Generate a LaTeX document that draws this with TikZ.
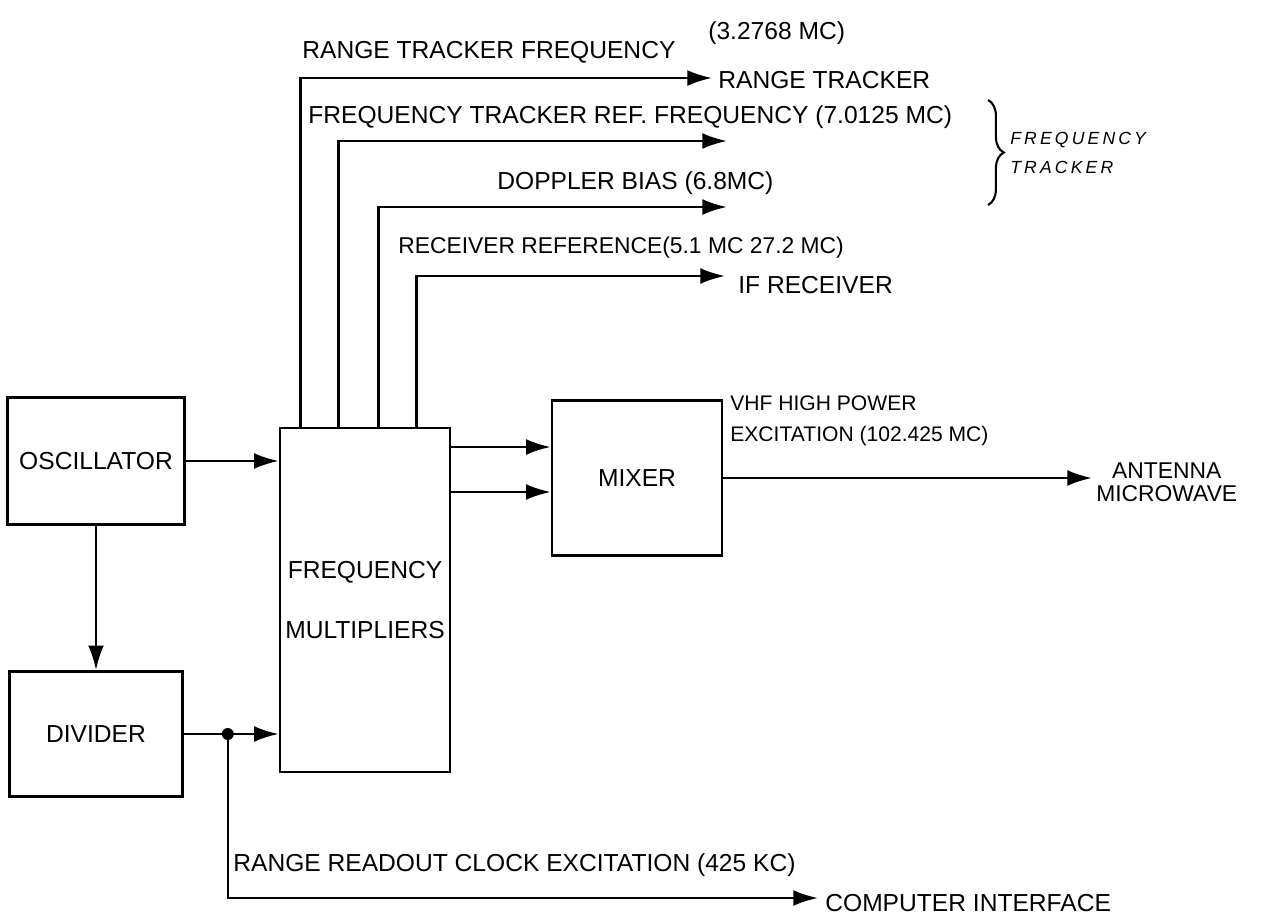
\documentclass[tikz,border=0pt]{standalone}
\usepackage{fontspec}
\setmainfont{Liberation Sans}
\usetikzlibrary{arrows.meta,positioning,calc,decorations.pathreplacing}

\begin{document}
\begin{tikzpicture}[
    x=0.02cm, y=-0.02cm,
    every node/.style={align=center, font=\fontsize{14}{16}\selectfont},
    block/.style={draw, line width=1.5pt, inner sep=0pt},
    sig/.style={-{Latex[length=14pt, width=9pt]}, line width=1.4pt},
    lbl/.style={anchor=west, inner sep=0pt},
    note/.style={anchor=west, inner sep=0pt, align=left, font=\fontsize{10}{17}\selectfont\itshape\addfontfeature{LetterSpace=18}}
]
    \useasboundingbox (0,0) rectangle (1261,919);

    % blocks
    \node[block, minimum width=3.54cm, minimum height=2.54cm] (osc) at (96,461) {OSCILLATOR};
    \node[block, minimum width=3.46cm, minimum height=2.5cm] (div) at (96,734) {DIVIDER};
    \node[block, minimum width=3.4cm, minimum height=6.88cm] (fm) at (365,600) {FREQUENCY\\[18pt]MULTIPLIERS};
    \node[block, minimum width=3.4cm, minimum height=3.1cm] (mixer) at (637,478) {MIXER};

    % free ends
    \coordinate (rt) at (712,78);
    \coordinate (ft) at (727,141);
    \coordinate (db) at (727,207);
    \coordinate (ifr) at (725,276);
    \coordinate (ant) at (1092,478);
    \coordinate (ci) at (818,898);
    \coordinate (tap) at ($(div.east)+(44,0)$);
    \coordinate (in1) at ([yshift=0.62cm]mixer.west);
    \coordinate (in2) at ([yshift=-0.28cm]mixer.west);

    \draw[sig] (osc.east) -- (fm.west |- osc.east);
    \draw[sig] (osc.south) -- (div.north);
    \draw[sig] (div.east) -- (fm.west |- div.east);
    \fill (tap) circle[radius=3.4pt];
    \draw[sig] (tap) |- (ci);
    \draw[sig] (fm.east |- in1) -- (in1);
    \draw[sig] (fm.east |- in2) -- (in2);
    \draw[sig] (mixer.east) -- (ant);

    \draw[sig] ([xshift=0.44cm]fm.north west) |- (rt);
    \draw[sig] ([xshift=1.2cm]fm.north west) |- (ft);
    \draw[sig] ([xshift=2cm]fm.north west) |- (db);
    \draw[sig] ([xshift=2.76cm]fm.north west) |- (ifr);

    % labels
    \node[lbl] (rtf) at (302,52) {RANGE TRACKER FREQUENCY};
    \node[lbl] (rtv) at (708,33) {(3.2768 MC)};
    \node[lbl] (rtn) at (718,80) {RANGE TRACKER};
    \node[lbl] (ftf) at (308,117) {FREQUENCY TRACKER REF. FREQUENCY (7.0125 MC)};
    \node[lbl] (dbl) at (497,183) {DOPPLER BIAS (6.8MC)};
    \node[lbl, font=\fontsize{13}{15}\selectfont] (rrf) at (398,248) {RECEIVER REFERENCE(5.1 MC 27.2 MC)};
    \node[lbl] (ifn) at (738,285) {IF RECEIVER};
    \node[lbl, align=left, font=\fontsize{12}{18}\selectfont] (vhf) at (730,421) {VHF HIGH POWER\\EXCITATION (102.425 MC)};
    \node[lbl, font=\fontsize{13}{13}\selectfont] (antn) at (1096,482) {ANTENNA\\MICROWAVE};
    \node[lbl] (rro) at (233,865) {RANGE READOUT CLOCK EXCITATION (425 KC)};
    \node[lbl] (cin) at (825,903) {COMPUTER INTERFACE};

    % frequency tracker group
    \coordinate (bt) at (988,100);
    \coordinate (bb) at (988,205);
    \draw[decorate, decoration={brace, amplitude=9pt}, line width=1.2pt] (bt) -- (bb);
    \node[note] (ftk) at (1010,153) {FREQUENCY\\TRACKER};
\end{tikzpicture}
\end{document}
